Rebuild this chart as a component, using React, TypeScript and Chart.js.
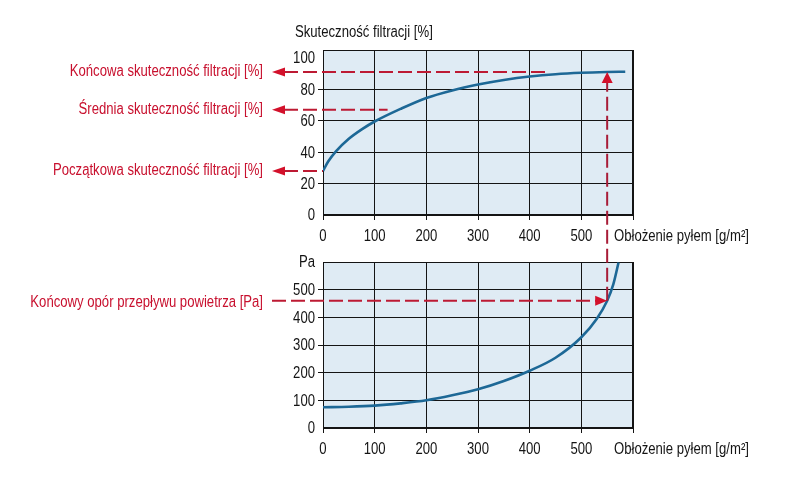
import React, { useEffect, useRef } from "react";
import { Chart, registerables } from "chart.js";

Chart.register(...registerables);

const FONT = '"Liberation Sans", Arial, sans-serif';
// labels are set in a condensed cut of the face
const CONDENSE = 0.82;

// Filtration efficiency [%] against dust load [g/m²]
const effLoad = [0, 10, 25, 50, 75, 100, 150, 200, 250, 300, 350, 400, 450, 500, 550, 585];
const efficiency = [28, 34, 40.5, 48.5, 54.5, 59.5, 67.5, 74.5, 79.3, 83, 85.9, 88.1, 89.6, 90.5, 91, 91.2];

// Air flow resistance [Pa] against dust load [g/m²]
const pressLoad = [0, 50, 100, 150, 200, 250, 300, 350, 400, 450, 500, 530, 550, 562, 572];
const pressure = [75, 77, 81, 89, 100, 118, 140, 170, 207, 254, 328, 395, 460, 520, 598];

// Axis ticks
const loadTicks = [0, 100, 200, 300, 400, 500, 600];
const effTicks = [0, 20, 40, 60, 80, 100];
const pressTicks = [0, 100, 200, 300, 400, 500, 600];

// Operating points marked with arrows
const finalLoad = 550;
const averageEfficiency = 67;
const averageLineEnd = 125;
const finalLineEnd = 430;

const effTitle = "Skuteczność filtracji [%]";
const loadTitle = "Obłożenie pyłem [g/m²]";
const pressUnit = "Pa";
const labelFinalEff = "Końcowa skuteczność filtracji [%]";
const labelAverageEff = "Średnia skuteczność filtracji [%]";
const labelInitialEff = "Początkowa skuteczność filtracji [%]";
const labelFinalPress = "Końcowy opór przepływu powietrza [Pa]";

const INK = "#141414";
const PLOT_BG = "#dfebf4";
const CURVE = "#1d6896";
const RED_TEXT = "#c8102e";
const RED_LINE = "#bd1a33";
const RED_HEAD = "#d3112b";
const RED_VERT = "#a81c37";

const loadLabel = (v: number) => (v === 600 ? "" : String(v));
const effLabel = (v: number) => String(v);
const pressLabel = (v: number) => (v === 600 ? pressUnit : String(v));

// Draws condensed text; x is the anchor according to align
function narrowText(
  ctx: CanvasRenderingContext2D,
  text: string,
  x: number,
  y: number,
  align: CanvasTextAlign,
  color: string,
  size = 16
) {
  ctx.save();
  ctx.font = `${size}px ${FONT}`;
  ctx.fillStyle = color;
  ctx.textAlign = align;
  ctx.textBaseline = "middle";
  ctx.translate(x, y);
  ctx.scale(CONDENSE, 1);
  ctx.fillText(text, 0, 0);
  ctx.restore();
}

// Tick labels and the load title for one chart, drawn from its scales' own ticks
function drawAxisText(ctx: CanvasRenderingContext2D, chart: any, yLabel: (v: number) => string) {
  const a = chart.chartArea;
  const xs = chart.scales.x;
  const ys = chart.scales.y;
  for (const t of xs.ticks) {
    const text = loadLabel(t.value);
    if (text) narrowText(ctx, text, xs.getPixelForValue(t.value), a.bottom + 22, "center", INK);
  }
  for (const t of ys.ticks) {
    const text = yLabel(t.value);
    if (text) narrowText(ctx, text, a.left - 8, ys.getPixelForValue(t.value) + 1, "right", INK);
  }
  narrowText(ctx, loadTitle, a.right - 19, a.bottom + 22, "left", INK);
}

const plotFrame = {
  id: "plotFrame",
  beforeDraw(chart: any) {
    const { ctx, chartArea: a } = chart;
    ctx.save();
    ctx.fillStyle = PLOT_BG;
    ctx.fillRect(a.left, a.top, a.right - a.left, a.bottom - a.top);
    ctx.restore();
  },
  beforeDatasetsDraw(chart: any) {
    const { ctx, chartArea: a } = chart;
    ctx.save();
    ctx.strokeStyle = INK;
    ctx.lineWidth = 1;
    const l = Math.round(a.left) + 0.5;
    const t = Math.round(a.top) + 0.5;
    const r = Math.round(a.right) - 0.5;
    const b = Math.round(a.bottom) - 0.5;
    ctx.strokeRect(l, t, r - l, b - t);
    ctx.restore();
  },
};

function head(ctx: CanvasRenderingContext2D, x: number, y: number, dx: number, dy: number, len: number, half: number) {
  // tip at (x, y), pointing along (dx, dy)
  const bx = x - dx * len;
  const by = y - dy * len;
  ctx.beginPath();
  ctx.moveTo(x, y);
  ctx.lineTo(bx - dy * half, by + dx * half);
  ctx.lineTo(bx + dy * half, by - dx * half);
  ctx.closePath();
  ctx.fill();
}

function dashed(ctx: CanvasRenderingContext2D, x1: number, y1: number, x2: number, y2: number, color: string) {
  ctx.save();
  ctx.strokeStyle = color;
  ctx.lineWidth = 2;
  ctx.setLineDash([14, 5]);
  ctx.beginPath();
  ctx.moveTo(x1, y1);
  ctx.lineTo(x2, y2);
  ctx.stroke();
  ctx.restore();
}

function baseScales(xTicks: number[], yTicks: number[], yMax: number, hideY: (v: number) => boolean) {
  return {
    x: {
      type: "linear" as const,
      min: 0,
      max: 600,
      afterBuildTicks: (s: any) => {
        s.ticks = xTicks.map((v) => ({ value: v }));
      },
      afterFit: (s: any) => {
        s.height = 30;
      },
      grid: { color: INK, lineWidth: 1, tickLength: 5, tickColor: INK },
      border: { display: true, color: INK, width: 1 },
      ticks: { display: false, autoSkip: false },
    },
    y: {
      type: "linear" as const,
      min: 0,
      max: yMax,
      afterBuildTicks: (s: any) => {
        s.ticks = yTicks.map((v) => ({ value: v }));
      },
      afterFit: (s: any) => {
        s.width = 40;
      },
      grid: {
        lineWidth: 1,
        tickLength: 5,
        color: (c: any) => (c.tick && hideY(c.tick.value) ? "rgba(0,0,0,0)" : INK),
        tickColor: (c: any) => (c.tick && (hideY(c.tick.value) || c.tick.value === 0) ? "rgba(0,0,0,0)" : INK),
      },
      border: { display: true, color: INK, width: 1 },
      ticks: { display: false, autoSkip: false },
    },
  };
}

export default function App() {
  const topRef = useRef<HTMLCanvasElement | null>(null);
  const bottomRef = useRef<HTMLCanvasElement | null>(null);

  useEffect(() => {
    if (!topRef.current || !bottomRef.current) return;

    const top = new Chart(topRef.current, {
      type: "line",
      data: {
        datasets: [
          {
            data: effLoad.map((x, i) => ({ x, y: efficiency[i] })),
            borderColor: CURVE,
            borderWidth: 2.6,
            pointRadius: 0,
            fill: false,
            cubicInterpolationMode: "monotone",
          },
        ],
      },
      options: {
        responsive: false,
        animation: false,
        devicePixelRatio: 1,
        layout: { padding: { left: 283, right: 159, top: 50, bottom: 235 } },
        plugins: { legend: { display: false }, tooltip: { enabled: false } },
        scales: baseScales(loadTicks, effTicks, 105, (v) => v === 100),
      },
      plugins: [plotFrame],
    });

    // All text and the red markers go on the upper canvas
    const markers = {
      id: "markers",
      afterDraw(chart: any) {
        const ctx: CanvasRenderingContext2D = chart.ctx;
        const xs1 = top.scales.x;
        const ys1 = top.scales.y;
        const xs2 = chart.scales.x;
        const ys2 = chart.scales.y;

        drawAxisText(ctx, top, effLabel);
        drawAxisText(ctx, chart, pressLabel);
        narrowText(ctx, effTitle, top.chartArea.left - 28, top.chartArea.top - 17, "left", INK);

        const finalEff = efficiency[effLoad.indexOf(finalLoad)];
        const finalPress = pressure[pressLoad.indexOf(finalLoad)];

        const textRight = 263;
        const tipX = 272;
        const headLen = 13;

        const leftArrows = [
          { text: labelFinalEff, y: ys1.getPixelForValue(finalEff), end: xs1.getPixelForValue(finalLineEnd) },
          { text: labelAverageEff, y: ys1.getPixelForValue(averageEfficiency), end: xs1.getPixelForValue(averageLineEnd) },
          { text: labelInitialEff, y: ys1.getPixelForValue(efficiency[0]), end: xs1.getPixelForValue(effLoad[0]) },
        ];

        for (const a of leftArrows) {
          narrowText(ctx, a.text, textRight, a.y, "right", RED_TEXT);
        }

        const fx1 = xs1.getPixelForValue(finalLoad);
        const fy1 = ys1.getPixelForValue(finalEff);
        const fx2 = xs2.getPixelForValue(finalLoad);
        const fy2 = ys2.getPixelForValue(finalPress);
        narrowText(ctx, labelFinalPress, textRight, fy2 + 2, "right", RED_TEXT);

        ctx.save();
        for (const a of leftArrows) {
          dashed(ctx, tipX + headLen - 1, a.y, a.end, a.y, RED_LINE);
          ctx.fillStyle = RED_HEAD;
          head(ctx, tipX, a.y, -1, 0, headLen, 4.5);
        }

        // resistance arrow towards the end point of the pressure curve
        dashed(ctx, tipX, fy2, fx2 - 11, fy2, RED_LINE);
        ctx.fillStyle = RED_HEAD;
        head(ctx, fx2, fy2, 1, 0, 12, 5);

        // link up to the efficiency curve at the same load
        dashed(ctx, fx2, fy2, fx1, fy1 + 11, RED_VERT);
        ctx.fillStyle = RED_HEAD;
        head(ctx, fx1, fy1, 0, -1, 11, 5.5);
        ctx.restore();
      },
    };

    const bottom = new Chart(bottomRef.current, {
      type: "line",
      data: {
        datasets: [
          {
            data: pressLoad.map((x, i) => ({ x, y: pressure[i] })),
            borderColor: CURVE,
            borderWidth: 2.6,
            pointRadius: 0,
            fill: false,
            cubicInterpolationMode: "monotone",
          },
        ],
      },
      options: {
        responsive: false,
        animation: false,
        devicePixelRatio: 1,
        layout: { padding: { left: 283, right: 159, top: 262, bottom: 22 } },
        plugins: { legend: { display: false }, tooltip: { enabled: false } },
        scales: baseScales(loadTicks, pressTicks, 600, (v) => v === 600),
      },
      plugins: [plotFrame, markers],
    });

    return () => {
      bottom.destroy();
      top.destroy();
    };
  }, []);

  const canvasStyle: React.CSSProperties = { position: "absolute", left: 0, top: 0, width: 792, height: 480 };

  return (
    <div style={{ position: "fixed", left: 0, top: 0, width: 792, height: 480, background: "#ffffff" }}>
      <canvas ref={topRef} width={792} height={480} style={canvasStyle} />
      <canvas ref={bottomRef} width={792} height={480} style={canvasStyle} />
    </div>
  );
}
